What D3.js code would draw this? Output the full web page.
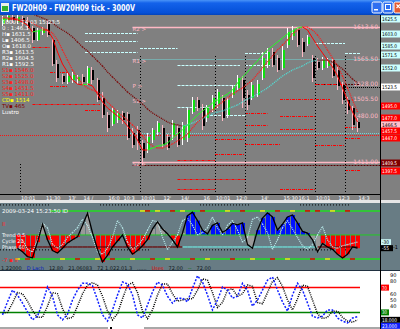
<!DOCTYPE html>
<html>
<head>
<meta charset="utf-8">
<title>FW20H09</title>
<script src="https://cdn.jsdelivr.net/npm/d3@7"></script>
<style>
  html, body { margin: 0; padding: 0; overflow: hidden; background: #808080; }
  svg { display: block; }
  text { font-family: "DejaVu Sans", sans-serif; }
</style>
</head>
<body>
<svg id="chart" width="400" height="329"></svg>
<script>
// one entry per 3000-volume bar
const opens = [1618,1624,1628.5,1621,1627,1621,1612,1594,1604.5,1618,
  1594,1558,1540,1531,1534,1532.5,1538.5,1529.5,1549,1534,
  1507,1481.5,1468,1474,1484.5,1483,1454.5,1459,1439.5,1429,
  1444,1456,1462,1448.5,1451.5,1462,1444,1447,1486,1504,
  1492,1477,1489,1498,1507,1481.5,1511.5,1522,1534,1511.5,
  1507,1511.5,1537,1556.5,1576,1567,1552,1586.5,1600,1609,
  1591,1588,1567,1561,1552,1555,1564,1549,1526.5,1504,
  1492,1471];
const closes = [1627,1630,1622.5,1628.5,1618,1612,1594,1609,1610.5,1601.5,
  1558,1537,1531,1540,1541.5,1538.5,1531,1552,1534,1504,
  1481.5,1462,1489,1484.5,1474,1447,1436.5,1439.5,1417,1448.5,
  1459,1469.5,1436.5,1432,1469.5,1436.5,1466.5,1489,1504,1492,
  1465,1492,1507,1516,1477,1504,1522,1537,1507,1496.5,
  1526.5,1528,1567,1576,1556.5,1549,1579,1606,1609,1586.5,
  1576,1598.5,1537,1552,1564,1562.5,1540,1525,1504,1489,
  1466.5,1462];
const highs = [1630,1631.5,1631.5,1631.5,1630,1628.5,1615,1612,1613.5,1624,
  1597,1564,1543,1544.5,1546,1541.5,1543,1555,1553.5,1537,
  1516,1486,1493.5,1489,1487.5,1486,1462,1465,1444,1454.5,
  1462,1472.5,1466.5,1453,1474,1466.5,1471,1492,1508.5,1508.5,
  1498,1496.5,1511.5,1520.5,1511.5,1508.5,1526.5,1541.5,1540,1519,
  1531,1534,1576,1582,1582,1571.5,1585,1612,1615,1613.5,
  1597,1601.5,1571.5,1567,1568.5,1567,1567,1555,1531,1508.5,
  1495,1477];
const lows = [1615,1621,1619.5,1618,1615,1609,1589.5,1592.5,1601.5,1598.5,
  1555,1531,1528,1528,1529.5,1528,1526.5,1526.5,1528,1501,
  1477,1456,1465,1469.5,1468,1444,1432,1429,1406.5,1424.5,
  1439.5,1451.5,1432,1429,1444,1433.5,1436.5,1441,1483,1487.5,
  1459,1471,1486,1492,1472.5,1477,1507,1519,1492,1489,
  1504,1508.5,1534,1552,1553.5,1546,1549,1582,1594,1583.5,
  1568.5,1585,1531,1549,1549,1552,1537,1519,1498,1483,
  1459,1456];

// moving averages
const slowMA = [1646.5,1645,1643.5,1642,1639,1636,1633,1630,1627,1624,
  1619.5,1613.5,1609,1604.5,1598.5,1591,1583.5,1577.5,1570,1562.5,
  1555,1546,1538.5,1531,1523.5,1516,1510,1504,1498,1490.5,
  1484.5,1480,1475.5,1471,1468,1466.5,1465,1466.5,1469.5,1472.5,
  1475.5,1480,1483,1486,1487.5,1490.5,1493.5,1496.5,1501,1505.5,
  1508.5,1513,1517.5,1522,1528,1534,1540,1544.5,1549,1552,
  1555,1559.5,1562.5,1564,1564,1564,1561,1556.5,1550.5,1543,
  1535.5,1529.5];
const fastMA = [1624,1625.5,1625.5,1624,1621,1616.5,1606,1607.5,1609,1609,
  1597,1576,1558,1546,1534,1528,1526.5,1528,1525,1513,
  1501,1492,1486,1480,1474,1465,1456,1444,1429,1429,
  1432,1435,1436.5,1439.5,1447,1453,1459,1466.5,1474,1481.5,
  1487.5,1493.5,1499.5,1504,1508.5,1513,1519,1529.5,1538.5,1546,
  1555,1562.5,1571.5,1579,1585,1591,1597,1603,1607.5,1612,
  1613.5,1609,1597,1585,1574.5,1564,1553.5,1540,1522,1504,
  1486,1471];
const midMA = [1627,1627,1627,1625.5,1624,1622.5,1619.5,1615,1612,1609,
  1604.5,1594,1579,1564,1549,1537,1528,1522,1519,1516,
  1510,1501,1493.5,1486,1480,1474,1466.5,1459,1450,1441,
  1435,1432,1432,1435,1438,1442.5,1447,1453,1462,1471,
  1477,1483,1489,1495,1501,1507,1513,1517.5,1522,1528,
  1534,1543,1552,1561,1570,1579,1586.5,1594,1603,1609,
  1613.5,1613.5,1609,1601.5,1591,1579,1567,1555,1540,1522,
  1504,1486];

// cycle oscillator panel
const cycleOsc = [null,null,null,-55,-70,-90,-95,-30,45,-20,
  -65,-75,-55,-33,-20,-8,40,90,10,-60,
  -112,-85,-50,-25,0,-50,-80,-65,-45,-20,
  25,54,25,5,-20,-50,8,80,95,60,
  20,5,40,50,10,25,48,42,50,-40,
  -55,20,70,92,75,21,45,75,83,50,
  15,8,-20,-70,-35,-50,-60,-80,-96,-80,
  -50,-55];
const cycleSig = [null,null,null,null,-20,-60,-70,-20,50,30,
  -40,-55,-40,-10,10,30,65,40,-10,-70,
  -80,-55,-10,60,30,-30,-60,-45,-20,20,
  60,55,-10,-60,-30,0,60,70,40,0,
  10,30,75,30,0,40,60,20,-30,-10,
  65,75,45,10,-60,-20,30,60,25,-10,
  -45,-60,-40,0,35,-20,-50,-55,-45,-40,
  -35,-30];
const topMarksYellow = [28,31,36,45,52,58,66];
const topMarksRed = [29,34,40,48,55,61,63,69];
const lowMarksYellow = [3,12,19,26,33,41,50,57,65];
const lowMarksRed = [5,15,22,30,38,46,54,62,70];

// stochastic panel
const stochK = [26,47,66,58,45,31,18,24,45,71,56,26,18,27,50,66,77,77,73,50,
  26,16,34,58,79,76,58,26,21,42,63,79,74,56,45,53,53,47,69,89,
  79,58,34,50,71,66,53,56,77,66,40,50,66,82,87,66,47,32,58,77,
  66,45,24,21,24,34,34,21,16,13,21,23];
const stochD = [29,30,45,62,60,48,33,22,22,40,62,60,36,20,22,40,60,74,78,74,
  56,32,18,28,52,74,78,62,32,20,34,58,76,76,60,48,50,52,52,66,
  84,82,62,38,46,66,68,56,60,74,72,46,44,62,80,86,72,50,34,52,
  74,72,50,28,20,22,32,32,22,16,14,18];
const stochBands = [70, 30];
const stochTicks = [90, 80, 60, 50, 40];

// sessions and pivot levels: [from bar, to bar, price, kind]
const sessionStarts = [3.5, 27.5, 42.5, 48.5, 62.5, 68.5];
const sessionTops = [1408, 1570, 1570, 1570, 1570, 1570];
const levels = [
  [26,75.5,1613.5,"pink"],[26,75.5,1411,"pink"],
  [26,75.5,1565.5,"cyanDot"],[25.5,75.5,1454.5,"cyanDot"],
  [-0.5,75.5,1451.5,"redDot"],
  [26,75.5,1406.5,"darkDot"],[62.5,71.5,1528,"darkDot"],[68.5,75.5,1523.5,"blackDot"],
  [16.5,27,1604.5,"cyanDash"],[16.5,27,1592.5,"cyanDash"],[16.5,27,1576,"cyanDash"],
  [27.5,35,1582,"cyanDash"],[35,47.5,1556.5,"cyanDash"],[35,47.5,1526.5,"cyanDash"],
  [35,41.5,1493.5,"cyanDash"],[41.5,48.5,1481.5,"cyanDash"],
  [48.5,53,1574.5,"cyanDash"],[48.5,53.5,1556.5,"cyanDash"],
  [62.5,68.5,1589.5,"cyanDash"],[68.5,71.5,1574.5,"cyanDash"],
  [9.5,13,1546,"redDash"],[9.5,13,1525,"redDash"],[6,19.5,1498,"redDash"],
  [16.5,19.5,1489,"redDash"],[6,9.5,1583.5,"redDash"],
  [48.5,53,1484.5,"redDash"],[55.5,62.5,1480,"redDash"],[48.5,53,1466.5,"redDash"],
  [55.5,62.5,1460.5,"redDash"],[42.5,48.5,1445.5,"redDash"],[48.5,55.5,1438,"redDash"],
  [62.5,68.5,1436.5,"redDash"],[42.5,48.5,1423,"redDash"],[35,42.5,1414,"redDash"],
  [68.5,71.5,1399,"redDash"],[35,48.5,1385.5,"redDash"],[35,42.5,1370.5,"redDash"],
  [55.5,62.5,1370.5,"redDash"],[55.5,65.5,1505.5,"redDash"],[62.5,68.5,1528,"redDash"],
  [68.5,71.5,1463.5,"redDash"],[68.5,71.5,1447,"redDash"]
];
const levelTags = [1613.5, 1565.5, 1528, 1505.5, 1480, 1411];
const pivotTags = [[1613.5,"R2 >"],[1565.5,"R1 >"],[1528,"P >"],[1505.5,"S1 >"],[1411,"S2 >"]];
const axisMarks = [[1625.5,"c"],[1603,"c"],[1585,"c"],[1571.5,"c"],[1552,"c"],[1523.5,"w"],
  [1495,"r"],[1477,"r"],[1466.5,"p"],[1457.5,"r"],[1447,"r"],[1409.5,"d"],[1397.5,"r"]];
const legendRows = [["1000 : 24 03 15:23:5","w"],["0 : 1:46.3","w"],["H\u25aa 1631.5","w"],
  ["L\u25aa 1406.5","w"],["O\u25aa 1618.0","w"],["R3\u25aa 1613.5","w"],["R2\u25aa 1604.5","w"],
  ["R1\u25aa 1592.5","w"],["S1\u25aa 1546.0","r"],["S2\u25aa 1525.0","r"],["S3\u25aa 1498.0","r"],
  ["S4\u25aa 1451.5","r"],["S5\u25aa 1411.0","r"],["CD\u25aa 1514","y"],["TV\u25aa 465","d"],["Lustro","w"]];
const timeLabels = [[3.5,"10:01"],[8.5,"11:30"],[13,"13'"],[16,"14 /"],[21,"16:0"],[24,"10:3"],
  [27.5,"10:01"],[32,"12'"],[35.5,"14/"],[40,"16"],[42.5,"10:01"],[46.5,"12:0"],
  [51.5,"14'"],[56,"15:30"],[59,"16:1"],[62.5,"10:01"],[67,"12:3"],[71,"14:3"]];
const headerParts = [["1.22000","#101820"],["D Lach","#0018c0"],["12.80","#101820"],
  ["21.06083","#101820"],["72 1.022.01.3","#101820"],["......","#101820"],["Uses","#e00000"],
  ["72.00","#101820"],["--","#007000"],["72.00","#101820"]];

const svg = d3.select("#chart");
const defs = svg.append("defs");
const x = d3.scaleLinear().domain([-0.5, 71.5]).range([0, 360]);
const yMain = d3.scaleLinear().domain([1363, 1631.5]).range([194, 15]);
const yCyc = d3.scaleLinear().domain([-125, 133]).range([265, 203]);
const ySto = d3.scaleLinear().domain([0, 100]).range([331, 269]);
const idx = d3.range(opens.length);

function clip(id, y0, h) {
  defs.append("clipPath").attr("id", id).append("rect")
    .attr("x", 0).attr("y", y0).attr("width", 380).attr("height", h);
}
clip("cMain", 15, 179);
clip("cCyc", 203, 62);
clip("cSto", 271, 56);

function rect(g, x0, y0, w, h, fill) {
  return g.append("rect").attr("x", x0).attr("y", y0)
    .attr("width", w).attr("height", h).attr("fill", fill);
}
function label(g, x0, y0, str, fill, size) {
  return g.append("text").attr("x", x0).attr("y", y0)
    .attr("fill", fill).attr("font-size", size || 6).text(str);
}
// right-scale text squeezed into the 19px column
function scaleText(g, y0, str, fill, len) {
  return g.append("text").attr("x", 382).attr("y", y0)
    .attr("fill", fill).attr("font-size", 5)
    .attr("textLength", len).attr("lengthAdjust", "spacingAndGlyphs").text(str);
}
function bull(i) {
  return i > 0 && slowMA[i] > slowMA[i - 1];
}

/**
 * Draws a series as single segments so each one can take its own colour.
 */
function segments(g, values, yScale, colorFn, dash, width) {
  const pairs = d3.pairs(idx).filter(p => values[p[0]] != null && values[p[1]] != null);
  g.selectAll(null).data(pairs).join("line")
    .attr("x1", p => x(p[0])).attr("y1", p => yScale(values[p[0]]))
    .attr("x2", p => x(p[1])).attr("y2", p => yScale(values[p[1]]))
    .attr("stroke", p => colorFn(p[0], p[1]))
    .attr("stroke-width", width)
    .attr("stroke-dasharray", dash)
    .attr("stroke-linecap", "butt");
}

// ---------- backgrounds ----------
rect(svg, 0, 15, 400, 185, "#808080");
rect(svg, 0, 200, 400, 3, "#e6e6e6");
rect(svg, 0, 203, 400, 68, "#687c84");
rect(svg, 0, 271, 400, 58, "#ffffff");

// ---------- title bar ----------
const grad = defs.append("linearGradient").attr("id", "tg")
  .attr("x1", 0).attr("x2", 0).attr("y1", 0).attr("y2", 1);
[["0%", "#4a94f8"], ["20%", "#1462ea"], ["85%", "#0550d8"], ["100%", "#0444b8"]]
  .forEach(s => grad.append("stop").attr("offset", s[0]).attr("stop-color", s[1]));
rect(svg, 0, 0, 400, 15, "url(#tg)");
rect(svg, 1, 3, 8, 9, "#e8f0e8");
rect(svg, 2, 6, 6, 5, "#30b030");
svg.append("text").attr("x", 12).attr("y", 11).attr("fill", "#fff")
  .attr("font-size", 9).attr("font-weight", "bold")
  .attr("textLength", 123).attr("lengthAdjust", "spacingAndGlyphs")
  .text("FW20H09 - FW20H09 tick - 3000V");
const buttons = svg.append("g");
[[372, "#2f6ff0"], [383, "#2f6ff0"], [394, "#e35a32"]].forEach(b => {
  buttons.append("rect").attr("x", b[0]).attr("y", 2).attr("width", 10).attr("height", 11)
    .attr("rx", 1.5).attr("fill", b[1]).attr("stroke", "#fff").attr("stroke-width", 1);
});
rect(buttons, 374, 9, 4, 1.5, "#fff");
buttons.append("rect").attr("x", 385.5).attr("y", 4.5).attr("width", 5).attr("height", 5)
  .attr("fill", "none").attr("stroke", "#fff").attr("stroke-width", 1);
buttons.append("path").attr("d", "M396.5,4.5L400,8M400,4.5L396.5,8")
  .attr("stroke", "#fff").attr("stroke-width", 1.2);

// ---------- price panel ----------
const main = svg.append("g").attr("clip-path", "url(#cMain)");
const levelStyle = {
  pink: ["#ffb8c4", null, 1.3],
  cyanDot: ["#70d8d8", "1,1", 1],
  redDot: ["#ff1010", "1,1", 1],
  darkDot: ["#5a0000", "2,1", 1],
  blackDot: ["#000000", "1,1", 1],
  cyanDash: ["#c8ffff", "3,1", 1],
  redDash: ["#ff0000", "3,1,1,1", 1]
};
main.selectAll(null).data(levels).join("line")
  .attr("x1", d => x(d[0])).attr("x2", d => x(d[1]))
  .attr("y1", d => Math.round(yMain(d[2])) + 0.5)
  .attr("y2", d => Math.round(yMain(d[2])) + 0.5)
  .attr("stroke", d => levelStyle[d[3]][0])
  .attr("stroke-dasharray", d => levelStyle[d[3]][1])
  .attr("stroke-width", d => levelStyle[d[3]][2]);

main.selectAll(null).data(sessionStarts).join("line")
  .attr("x1", d => Math.round(x(d)) + 0.5).attr("x2", d => Math.round(x(d)) + 0.5)
  .attr("y1", (d, k) => yMain(sessionTops[k])).attr("y2", 194)
  .attr("stroke", "#000").attr("stroke-dasharray", "1,2");

main.selectAll(null).data(levelTags).join("text")
  .attr("x", 378).attr("y", d => yMain(d) + 2)
  .attr("text-anchor", "end").attr("font-size", 6).attr("fill", "#ffb8c4")
  .text(d => d.toFixed(2));
main.selectAll(null).data(pivotTags).join("text")
  .attr("x", x(26)).attr("y", d => yMain(d[0]) + 4)
  .attr("font-size", 5.5).attr("fill", "#ffb8c4")
  .text(d => d[1]);

// candles
const candle = main.append("g").selectAll("g").data(idx).join("g");
candle.append("rect")
  .attr("x", i => Math.round(x(i)) - 1).attr("width", 1)
  .attr("y", i => yMain(highs[i])).attr("height", i => yMain(lows[i]) - yMain(highs[i]))
  .attr("fill", i => closes[i] >= opens[i] ? "#ffffff" : "#ffb8c4");
candle.append("rect")
  .attr("x", i => Math.round(x(i)) - 1).attr("width", 3)
  .attr("y", i => yMain(Math.max(opens[i], closes[i])))
  .attr("height", i => Math.max(1, Math.abs(yMain(opens[i]) - yMain(closes[i]))))
  .attr("fill", i => closes[i] >= opens[i] ? "#10e010" : "#000000");
candle.append("rect")
  .attr("x", i => Math.round(x(i)) - 1).attr("width", 1)
  .attr("y", i => yMain(Math.max(opens[i], closes[i])))
  .attr("height", i => Math.max(1, Math.abs(yMain(opens[i]) - yMain(closes[i]))))
  .attr("fill", i => closes[i] >= opens[i] ? "#ffffff" : "#ffb8c4");

// averages
segments(main, slowMA, yMain, (a, b) => bull(b) ? "#50e0d8" : "#7a0000", "1,1", 1.3);
segments(main, midMA, yMain, () => "#ff1a1a", "1,1", 1.3);
segments(main, fastMA, yMain, (a, b) => fastMA[b] > fastMA[a] ? "#20ff20" : "#ff0000", null, 1);

// legend
svg.append("g").selectAll("text").data(legendRows).join("text")
  .attr("x", 2).attr("y", (d, k) => 24 + k * 6)
  .attr("font-size", 5.5)
  .attr("fill", d => ({ w: "#ffffff", r: "#ff2020", y: "#ffff00", d: "#800000" })[d[1]])
  .text(d => d[0]);

// time axis
svg.append("line").attr("x1", 0).attr("x2", 380).attr("y1", 194.5).attr("y2", 194.5)
  .attr("stroke", "#000");
svg.append("g").selectAll("text").data(timeLabels).join("text")
  .attr("x", d => x(d[0]) + 1).attr("y", 200)
  .attr("font-size", 5).attr("fill", "#fff").text(d => d[1]);

// price scale boxes
const markStyle = {
  c: ["#ccffff", "#000"], w: ["#ffffff", "#000"], r: ["#ff0000", "#fff"],
  p: ["#ffc0cb", "#000"], d: ["#800000", "#fff"]
};
const marks = svg.append("g");
axisMarks.forEach(d => {
  rect(marks, 381, yMain(d[0]) - 3.5, 19, 7, markStyle[d[1]][0]);
  scaleText(marks, yMain(d[0]) + 2, d[0].toFixed(1), markStyle[d[1]][1], 15);
});

// ---------- cycle panel ----------
const cyc = svg.append("g").attr("clip-path", "url(#cCyc)");
[[-0.5, 9.5], [19.5, 29.5], [39.5, 49.5], [59.5, 69.5]].forEach(r => {
  [125, -62].forEach(v => {
    cyc.append("line").attr("x1", x(r[0])).attr("x2", x(r[1]))
      .attr("y1", yCyc(v)).attr("y2", yCyc(v))
      .attr("stroke", "#000").attr("stroke-dasharray", "1,2");
  });
});
function band(v, from, yellow, red) {
  cyc.append("line").attr("x1", x(from)).attr("x2", x(75.5))
    .attr("y1", yCyc(v)).attr("y2", yCyc(v)).attr("stroke", "#22dd22").attr("stroke-width", 1.5);
  [[yellow, "#f0e020"], [red, "#e00000"]].forEach(m => {
    cyc.selectAll(null).data(m[0]).join("line")
      .attr("x1", i => x(i - 0.5)).attr("x2", i => x(i + 0.5))
      .attr("y1", yCyc(v)).attr("y2", yCyc(v))
      .attr("stroke", m[1]).attr("stroke-width", 1.5);
  });
}
band(100, 9.5, topMarksYellow, topMarksRed);
band(-100, 3, lowMarksYellow, lowMarksRed);

cyc.selectAll(null).data(idx.filter(i => cycleOsc[i] != null)).join("rect")
  .attr("x", i => Math.round(x(i)) - 2).attr("width", 4)
  .attr("y", i => yCyc(Math.max(0, cycleOsc[i])))
  .attr("height", i => Math.abs(yCyc(cycleOsc[i]) - yCyc(0)))
  .attr("fill", i => {
    if (cycleOsc[i] >= 0) return bull(i) ? "#0010ff" : "#9a9a9a";
    return bull(i) ? "#9a9a9a" : "#ff0000";
  });
cyc.append("line").attr("x1", x(5)).attr("x2", x(75.5))
  .attr("y1", yCyc(0)).attr("y2", yCyc(0)).attr("stroke", "#22cc22").attr("stroke-width", 1);
segments(cyc, idx.map(i => i >= 3 ? -50 : null), yCyc,
  (a, b) => bull(b) ? "#70e8e0" : "#6a0000", null, 1.2);
segments(cyc, cycleSig, yCyc, () => "#c0f4f4", "1,1", 1.2);
cyc.append("path")
  .attr("d", d3.line().defined(i => cycleOsc[i] != null).x(i => x(i)).y(i => yCyc(cycleOsc[i]))(idx))
  .attr("fill", "none").attr("stroke", "#000").attr("stroke-width", 1.3);

label(svg, 2, 213, "2009-03-24 15:23:50 ID", "#fff", 5.5);
label(svg, 2, 226, "II", "#ff2020", 5.5);
label(svg, 2, 237, "Trend  0.5", "#fff", 5);
label(svg, 2, 243, "Cycle  21", "#fff", 5);
label(svg, 2, 249, "Phase  60", "#fff", 5);
label(svg, 2, 262, "-7 \u25aa II", "#ff2020", 5.5);

const lastSig = cycleSig[cycleSig.length - 1];
const lastOsc = cycleOsc[cycleOsc.length - 1];
rect(svg, 381, yCyc(lastSig) - 3, 10, 6, "#c8f4f4");
scaleText(svg, yCyc(lastSig) + 2, String(lastSig), "#000", 7);
rect(svg, 381, yCyc(lastOsc) - 3, 12, 6, "#000");
scaleText(svg, yCyc(lastOsc) + 2, String(lastOsc), "#fff", 7);
label(svg, 393, yCyc(-50) + 2, "-1", "#000", 5);

// ---------- stochastic panel ----------
rect(svg, 0, 265, 380, 6, "#687c84");
svg.append("line").attr("x1", 0).attr("x2", 400).attr("y1", 270.5).attr("y2", 270.5)
  .attr("stroke", "#203040");
let hx = 1;
headerParts.forEach(p => {
  const t = label(svg, hx, 269.5, p[0], p[1], 5);
  hx += t.node().getComputedTextLength() + 5;
});

const sto = svg.append("g").attr("clip-path", "url(#cSto)");
sto.selectAll(null).data(stochBands).join("line")
  .attr("x1", 0).attr("x2", x(71.5))
  .attr("y1", d => ySto(d)).attr("y2", d => ySto(d))
  .attr("stroke", (d, k) => k === 0 ? "#ff0000" : "#008000").attr("stroke-width", 1.5);
const stoLine = v => d3.line().x(i => x(i)).y(i => ySto(v[i]))(idx);
sto.append("path").attr("d", stoLine(stochD)).attr("fill", "none")
  .attr("stroke", "#000").attr("stroke-width", 1.5).attr("stroke-dasharray", "1,1.2");
sto.append("path").attr("d", stoLine(stochK)).attr("fill", "none")
  .attr("stroke", "#1020ff").attr("stroke-width", 1.5).attr("stroke-dasharray", "2,1.5");

rect(svg, 0, 327, 108, 2, "#a8a8a8");
rect(svg, 110, 327, 2, 2, "#000");
rect(svg, 144, 327, 236, 2, "#a8a8a8");

svg.append("g").selectAll("text").data(stochTicks).join("text")
  .attr("x", 390).attr("y", d => ySto(d) + 2).attr("font-size", 5).attr("fill", "#000")
  .text(d => d);
rect(svg, 381, ySto(70) - 3, 8, 6, "#ff0000");
scaleText(svg, ySto(70) + 2, "70", "#fff", 5);
rect(svg, 381, ySto(30) - 3, 8, 6, "#008000");
scaleText(svg, ySto(30) + 2, "30", "#fff", 5);
const lastD = stochD[stochD.length - 1];
const lastK = stochK[stochK.length - 1];
rect(svg, 381, ySto(lastD) - 3, 19, 6, "#000");
scaleText(svg, ySto(lastD) + 2, lastD.toFixed(3), "#fff", 15);
rect(svg, 381, ySto(lastD) + 3, 19, 6, "#1020ff");
scaleText(svg, ySto(lastD) + 8, lastK.toFixed(3), "#fff", 15);

// frame line between plots and price scale
svg.append("line").attr("x1", 380.5).attr("x2", 380.5).attr("y1", 15).attr("y2", 329)
  .attr("stroke", "#000");
</script>
</body>
</html>
